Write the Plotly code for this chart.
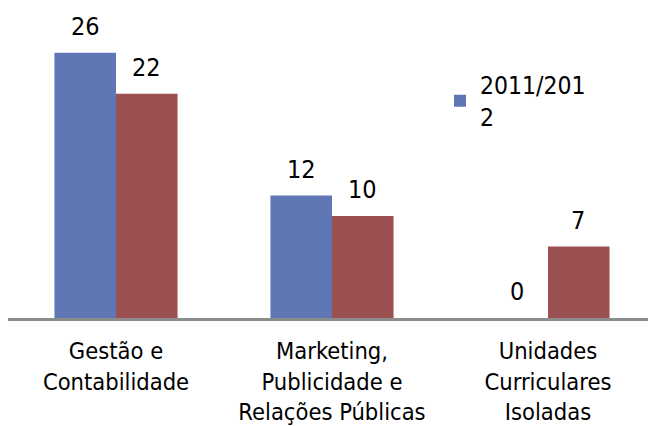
import plotly.graph_objects as go

categories = ["Gestão e<br>Contabilidade", "Marketing,<br>Publicidade e<br>Relações Públicas", "Unidades<br>Curriculares<br>Isoladas"]
series_names = ["2011/201<br>2", "2012/2013"]
values_a = [26, 12, 0]
values_b = [22, 10, 7]

colors = ["#5F77B5", "#9C5052"]
font_family = "DejaVu Sans Condensed, DejaVu Sans, sans-serif"

fig = go.Figure()
fig.add_trace(go.Bar(x=[0, 1, 2], y=values_a, name=series_names[0], marker=dict(color=colors[0], line=dict(width=0)), showlegend=True))
fig.add_trace(go.Bar(x=[0, 1, 2], y=values_b, name=series_names[1], marker=dict(color=colors[1], line=dict(width=0)), showlegend=False))

annotations = []
for vals, shift in ((values_a, -30.5), (values_b, 30.5)):
    for i, v in enumerate(vals):
        annotations.append(dict(x=i, y=v, xref="x", yref="y", text=str(v), showarrow=False,
                                xshift=shift, yshift=10, yanchor="bottom",
                                font=dict(size=25, color="#000000", family=font_family)))

fig.update_layout(
    width=648, height=426,
    margin=dict(l=8, r=0, t=10, b=108, autoexpand=False),
    paper_bgcolor="white", plot_bgcolor="white",
    barmode="group", bargap=0.43, bargroupgap=0,
    font=dict(family=font_family, size=24, color="#000000"),
    xaxis=dict(tickmode="array", tickvals=[0, 1, 2], ticktext=categories,
               range=[-0.5, 2.463], showline=True, linecolor="#8C8C8C", linewidth=3,
               ticks="", showgrid=False, zeroline=False, automargin=False,
               ticklabelstandoff=10,
               tickfont=dict(size=23.5, family=font_family)),
    yaxis=dict(range=[0, 30.2], visible=False, showgrid=False, zeroline=False, automargin=False),
    legend=dict(x=0.675, y=0.83, xanchor="left", yanchor="top", bgcolor="rgba(0,0,0,0)",
                font=dict(size=24.5, family=font_family), itemwidth=30, tracegroupgap=0),
    annotations=annotations,
)

fig.write_html("out.html", config={"displayModeBar": False},
               post_script="document.body.style.margin='0';document.body.style.overflow='hidden';")
